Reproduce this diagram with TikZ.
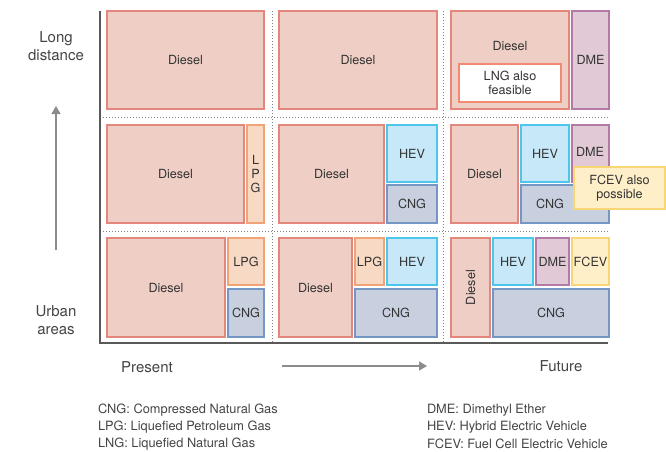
\documentclass[tikz,border=0pt]{standalone}
\usepackage{fontspec}
\setmainfont{TeX Gyre Heros}
\usetikzlibrary{arrows.meta}
\definecolor{dslF}{HTML}{EFCFC5}\definecolor{dslD}{HTML}{E3867C}
\definecolor{lpgF}{HTML}{F8D9C4}\definecolor{lpgD}{HTML}{EFA376}
\definecolor{hevF}{HTML}{C6E8F8}\definecolor{hevD}{HTML}{4DC6EE}
\definecolor{cngF}{HTML}{C8D0E0}\definecolor{cngD}{HTML}{7396C4}
\definecolor{dmeF}{HTML}{E1CAD6}\definecolor{dmeD}{HTML}{B47AA6}
\definecolor{fcvF}{HTML}{FFEFC9}\definecolor{fcvD}{HTML}{F8D575}
\definecolor{lngD}{HTML}{F08A70}
\definecolor{txt}{HTML}{333333}
\definecolor{lab}{HTML}{444444}
\newcommand{\bx}[7]{\node[#2, anchor=north west, minimum width={#5-#3}, minimum height={#6-#4}] (#1) at (#3,#4) {#7};}
\begin{document}
\begin{tikzpicture}[x=1pt,y=-1pt,
  every node/.style={inner sep=0pt, outer sep=0pt, text=txt, font=\fontsize{12.6}{14}\selectfont, align=center},
  fbox/.style={draw, line width=1.1pt},
  dsl/.style={fbox, fill=dslF, draw=dslD},
  lpg/.style={fbox, fill=lpgF, draw=lpgD},
  hev/.style={fbox, fill=hevF, draw=hevD},
  cng/.style={fbox, fill=cngF, draw=cngD},
  dme/.style={fbox, fill=dmeF, draw=dmeD},
  fcv/.style={fbox, fill=fcvF, draw=fcvD},
  lng/.style={fbox, fill=white, draw=lngD},
  grid/.style={draw=black!50, line width=1pt, dash pattern=on 1pt off 2pt},
  axis/.style={draw=black!65, line width=1.8pt},
  garrow/.style={draw=black!45, line width=1.3pt, -{Triangle[length=8pt,width=9pt]}},
  axlab/.style={text=lab, font=\fontsize{15}{18}\selectfont},
  leg/.style={text=lab, anchor=west, font=\fontsize{12.8}{14}\selectfont}]
\useasboundingbox (0,0) rectangle (666,452);
% grid
\coordinate (v1t) at (272,11); \coordinate (v1b) at (272,343);
\coordinate (v2t) at (443,11); \coordinate (v2b) at (443,343);
\coordinate (h1l) at (100,117); \coordinate (h1r) at (608,117);
\coordinate (h2l) at (100,231); \coordinate (h2r) at (608,231);
\draw[grid] (v1t) -- (v1b);
\draw[grid] (v2t) -- (v2b);
\draw[grid] (h1l) -- (h1r);
\draw[grid] (h2l) -- (h2r);
% axes
\coordinate (axT) at (100,11); \coordinate (axO) at (100,343); \coordinate (axR) at (608,343);
\draw[axis] (axT) -- (axO) -- (axR);
% row 1
\bx{d11}{dsl}{107}{11}{264}{109}{Diesel}
\bx{d21}{dsl}{279}{11}{437}{109}{Diesel}
\bx{d31}{dsl}{451}{11}{569}{109}{}
\node (d31t) at (510,46) {Diesel};
\bx{lng31}{lng}{459}{64}{561}{102}{LNG also\\feasible}
\bx{dme31}{dme}{572}{11}{609}{109}{DME}
% row 2
\bx{d12}{dsl}{107}{125}{244}{223}{Diesel}
\bx{lpg12}{lpg}{247}{125}{264}{223}{\fontsize{12.6}{12.5}\selectfont L\\P\\G}
\bx{d22}{dsl}{279}{125}{384}{223}{Diesel}
\bx{hev22}{hev}{387}{125}{437}{182}{HEV}
\bx{cng22}{cng}{387}{185}{437}{223}{CNG}
\bx{d32}{dsl}{451}{125}{518}{223}{Diesel}
\bx{hev32}{hev}{521}{125}{569}{182}{HEV}
\bx{dme32}{dme}{572}{125}{609}{182}{}
\node (dme32t) at (590,152) {DME};
\bx{cng32}{cng}{521}{185}{609}{223}{}
\node (cng32t) at (550,204) {CNG};
\bx{fcv32}{fcv}{574}{167}{665}{209}{FCEV also\\possible}
% row 3
\bx{d13}{dsl}{107}{238}{225}{337}{Diesel}
\bx{lpg13}{lpg}{228}{238}{264}{285}{LPG}
\bx{cng13}{cng}{228}{289}{264}{337}{CNG}
\bx{d23}{dsl}{279}{238}{352}{337}{Diesel}
\bx{lpg23}{lpg}{355}{238}{384}{285}{LPG}
\bx{hev23}{hev}{387}{238}{437}{285}{HEV}
\bx{cng23}{cng}{355}{289}{437}{337}{CNG}
\bx{d33}{dsl}{451}{238}{490}{337}{\rotatebox{90}{Diesel}}
\bx{hev33}{hev}{493}{238}{533}{285}{HEV}
\bx{dme33}{dme}{536}{238}{569}{285}{DME}
\bx{fcv33}{fcv}{572}{238}{609}{285}{FCEV}
\bx{cng33}{cng}{493}{289}{609}{337}{CNG}
% axis labels and arrows
\node[axlab] (long) at (56,46) {Long\\distance};
\node[axlab] (urban) at (56,320) {Urban\\areas};
\node[axlab] (present) at (147,367) {Present};
\node[axlab] (future) at (561,366) {Future};
\coordinate (upS) at (56,250); \coordinate (upE) at (56,106);
\draw[garrow] (upS) -- (upE);
\coordinate (rtS) at (282,366); \coordinate (rtE) at (427,366);
\draw[garrow] (rtS) -- (rtE);
% legend
\node[leg] (l1) at (98,410) {CNG: Compressed Natural Gas};
\node[leg] (l2) at (98,427) {LPG: Liquefied Petroleum Gas};
\node[leg] (l3) at (98,444) {LNG: Liquefied Natural Gas};
\node[leg] (l4) at (427,410) {DME: Dimethyl Ether};
\node[leg] (l5) at (427,427) {HEV: Hybrid Electric Vehicle};
\node[leg] (l6) at (427,444) {FCEV: Fuel Cell Electric Vehicle};
\end{tikzpicture}
\end{document}
